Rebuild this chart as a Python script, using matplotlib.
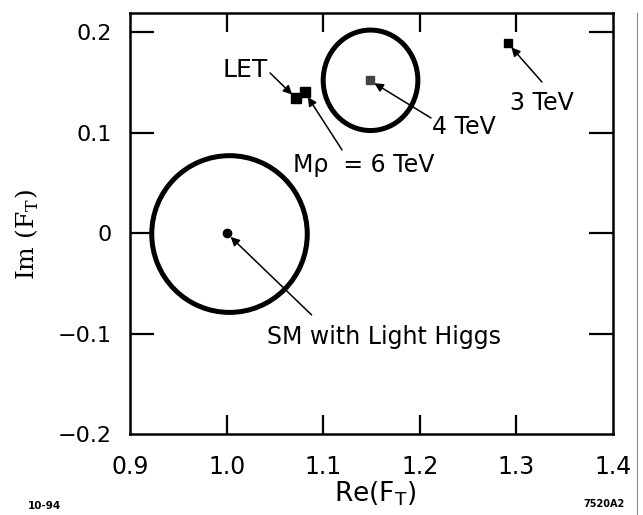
import matplotlib
matplotlib.use("Agg")
import matplotlib.pyplot as plt
from matplotlib.patches import Ellipse
from matplotlib.lines import Line2D

# model points in the (Re F_T, Im F_T) plane
labels = ["SM with Light Higgs", "LET", "Mρ  = 6 TeV", "4 TeV", "3 TeV"]
re_vals = [1.000, 1.072, 1.081, 1.148, 1.291]
im_vals = [0.000, 0.134, 0.140, 0.152, 0.189]

# error ellipses: centre (re, im) and full width / height
ell_re = [1.003, 1.149]
ell_im = [-0.001, 0.152]
ell_w = [0.161, 0.098]
ell_h = [0.156, 0.100]

x_ticks = [0.9, 1.0, 1.1, 1.2, 1.3, 1.4]
x_ticklabels = ["0.9", "1.0", "1.1", "1.2", "1.3", "1.4"]
y_ticks = [-0.2, -0.1, 0.0, 0.1, 0.2]
y_ticklabels = ["\u22120.2", "\u22120.1", "0", "0.1", "0.2"]

plt.rcParams["font.family"] = ["DejaVu Sans"]

fig = plt.figure(figsize=(6.43, 5.15), dpi=100, facecolor="white")
ax = fig.add_axes([0.2022, 0.1573, 0.7511, 0.8175])
ax.set_xlim(0.9, 1.4)
ax.set_ylim(-0.2, 0.219)

for cx, cy, w, h in zip(ell_re, ell_im, ell_w, ell_h):
    ax.add_patch(Ellipse((cx, cy), w, h, fill=False, edgecolor="black", linewidth=3.6))

# markers
ax.plot(re_vals[0], im_vals[0], "o", color="black", markersize=6)
ax.plot(re_vals[1:3], im_vals[1:3], "s", color="black", markersize=6.5)
ax.plot(re_vals[3], im_vals[3], "s", color="#444444", markersize=6)
ax.plot(re_vals[4], im_vals[4], "s", color="black", markersize=5.5)

# arrow tails and label anchors
tails = [(1.088, -0.0815), (1.045, 0.1593), (1.1195, 0.0827), (1.2116, 0.1145), (1.3265, 0.1503)]
text_pos = [(1.0418, -0.1034), (1.0429, 0.1623), (1.0687, 0.0678), (1.2126, 0.1056), (1.2934, 0.1294)]
text_ha = ["left", "right", "left", "left", "left"]
text_size = [17, 18, 17, 17, 17]

for i, lab in enumerate(labels):
    ax.annotate("", xy=(re_vals[i], im_vals[i]), xytext=tails[i],
                arrowprops=dict(arrowstyle="-|>", color="black", lw=1.1,
                                mutation_scale=13, shrinkA=0, shrinkB=4))
    ax.text(text_pos[i][0], text_pos[i][1], lab, ha=text_ha[i], va="center",
            fontsize=text_size[i], color="black")

# frame and inward ticks on all four sides
for sp in ax.spines.values():
    sp.set_linewidth(1.8)
ax.set_xticks(x_ticks)
ax.set_xticklabels(x_ticklabels)
ax.set_yticks(y_ticks)
ax.set_yticklabels(y_ticklabels)
ax.tick_params(axis="x", direction="in", length=14, width=1.6, pad=15,
               labelsize=17, top=True)
ax.tick_params(axis="y", direction="in", length=17, width=1.6, pad=13,
               labelsize=16, right=True)

# no tick marks where a tick sits on the frame corner
for t in [ax.xaxis.get_major_ticks()[0], ax.xaxis.get_major_ticks()[-1],
          ax.yaxis.get_major_ticks()[0]]:
    t.tick1line.set_visible(False)
    t.tick2line.set_visible(False)

fig.text(375 / 643, 1 - 494 / 515, "Re(F$_\\mathregular{T}$)", ha="center",
         va="center", fontsize=19)
fig.text(27 / 643, 1 - 235 / 515, "Im (F$_\\mathregular{T}$)", rotation=90,
         ha="center", va="center", fontsize=18, family="DejaVu Serif")

# figure bookkeeping marks
fig.text(44 / 643, 1 - 506 / 515, "10-94", ha="center", va="center",
         fontsize=7.5, fontweight="bold")
fig.text(604 / 643, 1 - 504 / 515, "7520A2", ha="center", va="center",
         fontsize=7, fontweight="bold")
fig.add_artist(Line2D([637 / 643, 637 / 643], [0, 1 - 13 / 515],
                      color="#8a8a8a", linewidth=0.8))

fig.savefig("out.png", dpi=100, facecolor="white")
